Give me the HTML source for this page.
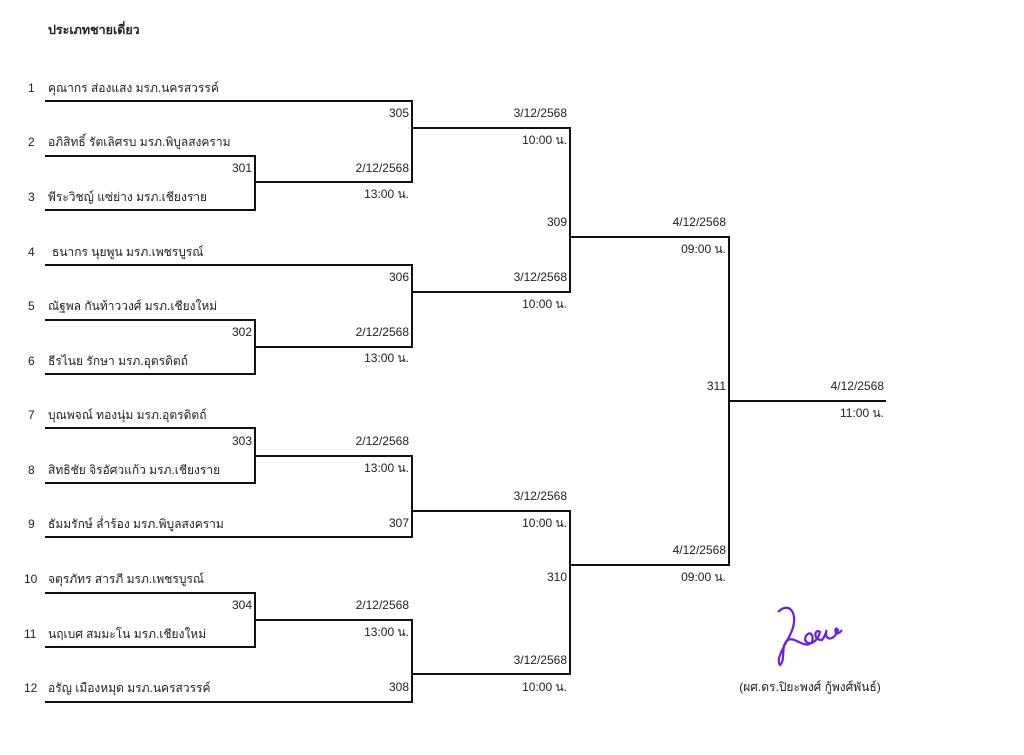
<!DOCTYPE html>
<html><head><meta charset="utf-8"><style>
html,body{margin:0;padding:0;background:#fff;}
svg{display:block}
text{font-family:"Liberation Sans","DejaVu Sans",sans-serif;font-size:12px;fill:#222}
.r{text-anchor:end}
</style></head><body>
<svg width="1024" height="755" viewBox="0 0 1024 755">
<text x="48" y="34" style="font-weight:bold;font-size:12.5px">ประเภทชายเดี่ยว</text>
<g stroke="#111" stroke-width="2" fill="none">
<polyline points="45,101 412,101 412,182 255,182"/>
<polyline points="45,156 255,156 255,210 45,210"/>
<polyline points="412,128 570,128 570,292 412,292"/>
<polyline points="45,265 412,265 412,347 255,347"/>
<polyline points="45,320 255,320 255,374 45,374"/>
<polyline points="570,237 729,237 729,565 570,565"/>
<line x1="729" y1="401" x2="886" y2="401"/>
<polyline points="45,428 255,428 255,483 45,483"/>
<polyline points="255,456 412,456 412,537 45,537"/>
<polyline points="412,511 570,511 570,674 412,674"/>
<polyline points="45,593 255,593 255,647 45,647"/>
<polyline points="255,620 412,620 412,702 45,702"/>
</g>
<g>
<text x="28" y="92">1</text><text x="48" y="92">คุณากร ส่องแสง มรภ.นครสวรรค์</text>
<text x="28" y="146">2</text><text x="48" y="146">อภิสิทธิ์ รัตเลิศรบ มรภ.พิบูลสงคราม</text>
<text x="28" y="201">3</text><text x="48" y="201">พีระวิชญ์ แซ่ย่าง มรภ.เชียงราย</text>
<text x="28" y="256">4</text><text x="52" y="256">ธนากร นุยพูน มรภ.เพชรบูรณ์</text>
<text x="28" y="310">5</text><text x="48" y="310">ณัฐพล กันท้าววงศ์ มรภ.เชียงใหม่</text>
<text x="28" y="365">6</text><text x="48" y="365">ธีรไนย รักษา มรภ.อุตรดิตถ์</text>
<text x="28" y="419">7</text><text x="48" y="419">บุณพจณ์ ทองนุ่ม มรภ.อุตรดิตถ์</text>
<text x="28" y="474">8</text><text x="48" y="474">สิทธิชัย จิรอัศวแก้ว มรภ.เชียงราย</text>
<text x="28" y="528">9</text><text x="48" y="528">ธัมมรักษ์ ล่ำร้อง มรภ.พิบูลสงคราม</text>
<text x="24" y="583">10</text><text x="48" y="583">จตุรภัทร สารภี มรภ.เพชรบูรณ์</text>
<text x="24" y="638">11</text><text x="48" y="638">นฤเบศ สมมะโน มรภ.เชียงใหม่</text>
<text x="24" y="692">12</text><text x="48" y="692">อรัญ เมืองหมุด มรภ.นครสวรรค์</text>
</g>
<g class="r">
<text class="r" x="409" y="117">305</text>
<text class="r" x="252" y="172">301</text>
<text class="r" x="409" y="172">2/12/2568</text>
<text class="r" x="409" y="198">13:00 น.</text>
<text class="r" x="567" y="117">3/12/2568</text>
<text class="r" x="567" y="144">10:00 น.</text>
<text class="r" x="409" y="281">306</text>
<text class="r" x="252" y="336">302</text>
<text class="r" x="409" y="336">2/12/2568</text>
<text class="r" x="409" y="362">13:00 น.</text>
<text class="r" x="567" y="226">309</text>
<text class="r" x="567" y="281">3/12/2568</text>
<text class="r" x="567" y="308">10:00 น.</text>
<text class="r" x="726" y="226">4/12/2568</text>
<text class="r" x="726" y="253">09:00 น.</text>
<text class="r" x="726" y="390">311</text>
<text class="r" x="884" y="390">4/12/2568</text>
<text class="r" x="884" y="417">11:00 น.</text>
<text class="r" x="252" y="445">303</text>
<text class="r" x="409" y="445">2/12/2568</text>
<text class="r" x="409" y="472">13:00 น.</text>
<text class="r" x="409" y="527">307</text>
<text class="r" x="567" y="500">3/12/2568</text>
<text class="r" x="567" y="527">10:00 น.</text>
<text class="r" x="726" y="554">4/12/2568</text>
<text class="r" x="726" y="581">09:00 น.</text>
<text class="r" x="567" y="581">310</text>
<text class="r" x="252" y="609">304</text>
<text class="r" x="409" y="609">2/12/2568</text>
<text class="r" x="409" y="636">13:00 น.</text>
<text class="r" x="567" y="664">3/12/2568</text>
<text class="r" x="567" y="691">10:00 น.</text>
<text class="r" x="409" y="691">308</text>
</g>
<path d="M778,612 C790,600 800,615 790,635 C782,650 776,660 780,665 C786,660 780,645 788,640 C795,636 805,650 812,642 C815,632 806,630 805,640 C810,648 818,640 820,632 C815,628 812,640 822,640 C828,632 826,626 826,636 C830,642 836,636 838,630 C834,624 834,640 842,630" stroke="#6a1fe0" stroke-width="2.2" fill="none"/>
<text x="810" y="691" style="text-anchor:middle">(ผศ.ดร.ปิยะพงศ์ กู้พงศ์พันธ์)</text>
</svg>
</body></html>
